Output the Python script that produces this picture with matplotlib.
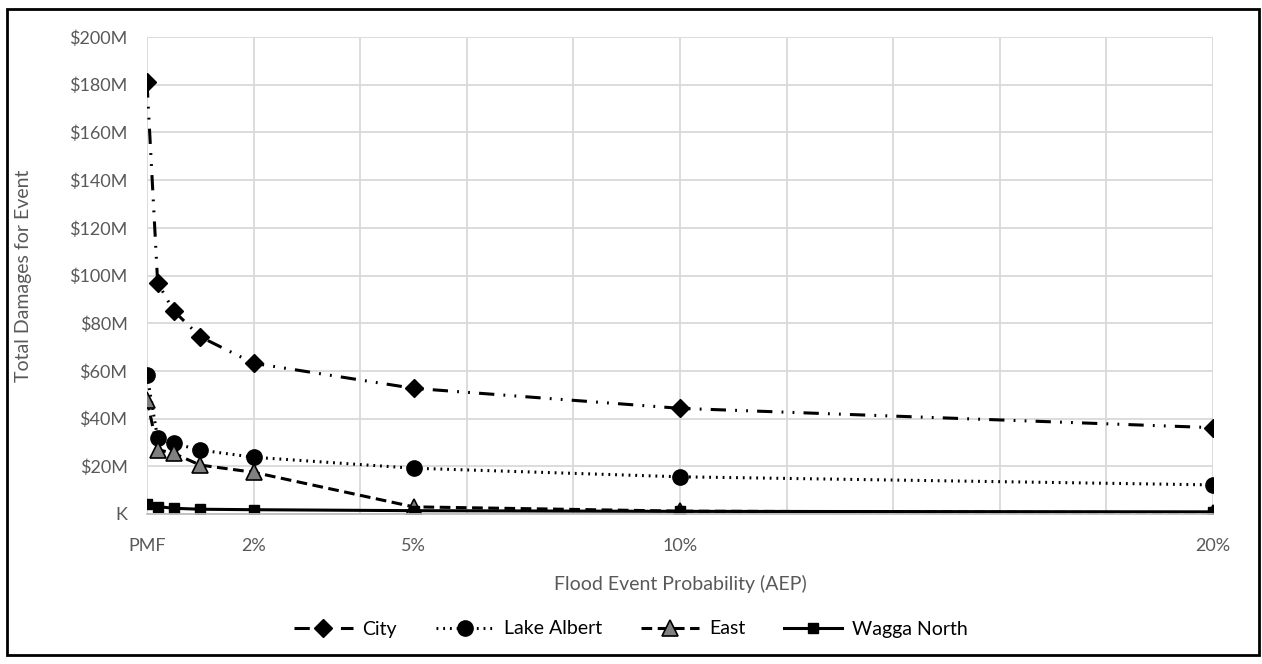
import matplotlib.pyplot as plt
from matplotlib.patches import Rectangle

# AEP (%) of each modelled event; PMF plotted at 0
aep = [0, 0.2, 0.5, 1, 2, 5, 10, 20]

# total damages per event, $M
city = [181, 97, 85.2, 74.3, 63.2, 52.7, 44.3, 36.2]
lake_albert = [58.3, 31.7, 29.6, 26.8, 23.8, 19.2, 15.6, 12.2]
east = [47.9, 27.0, 25.4, 20.5, 17.5, 3.0, 1.2, 0.5]
wagga_north = [4.1, 3.1, 2.4, 2.0, 1.8, 1.4, 1.1, 0.9]

tick_pos = [0, 2, 5, 10, 20]
tick_labels = ['PMF', '2%', '5%', '10%', '20%']
grid_x = list(range(0, 21, 2))

plt.rcParams['font.family'] = ['Lato', 'DejaVu Sans']
grey = '#595959'

fig = plt.figure(figsize=(12.62, 6.64), dpi=100)
ax = fig.add_axes([147 / 1262, 1 - 514 / 664, (1213 - 147) / 1262, (514 - 37) / 664])

ax.plot(aep, city, color='black', lw=2.2, linestyle=(0, (5, 3, 0.6, 3, 0.6, 3)),
        marker='D', ms=9, mfc='black', mec='black', label='City')
ax.plot(aep, lake_albert, color='black', lw=2.2, linestyle=(0, (0.6, 1.6)),
        marker='o', ms=11, mfc='black', mec='black', label='Lake Albert')
ax.plot(aep, east, color='black', lw=2.2, linestyle=(0, (3.5, 1.8)),
        marker='^', ms=12, mfc='#808080', mec='black', mew=1.2, label='East')
ax.plot(aep, wagga_north, color='black', lw=2.2, linestyle='-',
        marker='s', ms=7.5, mfc='black', mec='black', label='Wagga North')

ax.set_xlim(0, 20)
ax.set_ylim(0, 200)
ax.set_xticks(tick_pos)
ax.set_xticklabels(tick_labels)
ax.set_yticks(range(0, 201, 20))
ax.set_yticklabels(['K'] + ['$%dM' % v for v in range(20, 201, 20)])

# vertical gridlines every 2% (not tied to the labelled ticks)
ax.vlines(grid_x, 0, 200, color='#d9d9d9', lw=1.3, zorder=0)
ax.grid(which='major', axis='y', color='#d9d9d9', lw=1.3)
ax.set_axisbelow(True)
for side in ['top', 'right', 'left']:
    ax.spines[side].set_visible(False)
ax.spines['bottom'].set_color('#bfbfbf')
ax.spines['bottom'].set_linewidth(1.3)

ax.tick_params(axis='both', which='both', length=0, labelsize=13, labelcolor=grey)
ax.tick_params(axis='x', pad=17)
ax.tick_params(axis='y', pad=14)

ax.set_xlabel('Flood Event Probability (AEP)', fontsize=14, color=grey)
ax.set_ylabel('Total Damages for Event', fontsize=14, color=grey)
ax.xaxis.set_label_coords(0.5, (514 - 575) / 477)
ax.yaxis.set_label_coords((32 - 147) / 1066, 0.5)

handles, labels = ax.get_legend_handles_labels()
fig.legend(handles, labels, loc='center', bbox_to_anchor=(0.5, 1 - 629 / 664), ncol=4,
           frameon=False, fontsize=14, handlelength=3.0, handletextpad=0.5,
           columnspacing=2.0, numpoints=1)

# chart border
fig.patches.append(Rectangle((7 / 1262, 9 / 664), 1252 / 1262, 646 / 664,
                             transform=fig.transFigure, fill=False, ec='black', lw=2))

fig.savefig('out.png', dpi=100, facecolor='white')
